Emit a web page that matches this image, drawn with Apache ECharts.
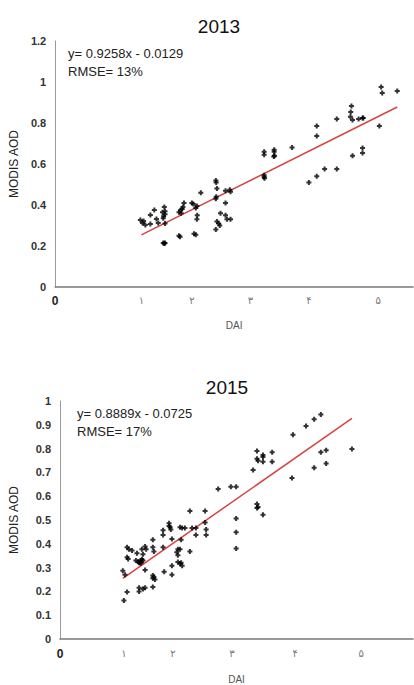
<!DOCTYPE html>
<html>
<head>
<meta charset="utf-8">
<script src="https://cdn.jsdelivr.net/npm/echarts@6/dist/echarts.min.js"></script>
<style>
html,body{margin:0;padding:0;background:#fff;}
#c{width:414px;height:685px;}
</style>
</head>
<body>
<div id="c"></div>
<script>
// ---- Data ----
const titles = ['2013', '2015'];
const equations2013 = ['y= 0.9258x - 0.0129', 'RMSE= 13%'];
const equations2015 = ['y= 0.8889x - 0.0725', 'RMSE= 17%'];
const xTickLabels = ['0', '۱', '۲', '۳', '۴', '۵'];
const xTickPos2013 = [0, 0.241, 0.382, 0.546, 0.709, 0.903];
const xTickPos2015 = [0, 0.181, 0.320, 0.487, 0.666, 0.853];

const points2013 = [
  [0.238,0.327],[0.244,0.312],[0.247,0.322],[0.252,0.302],
  [0.266,0.351],[0.277,0.376],[0.266,0.307],[0.283,0.332],[0.288,0.312],
  [0.300,0.365],[0.305,0.39],[0.307,0.37],[0.303,0.345],[0.307,0.355],[0.302,0.335],
  [0.307,0.31],
  [0.302,0.215],[0.305,0.212],[0.307,0.215],
  [0.346,0.25],[0.349,0.245],
  [0.346,0.365],[0.35,0.375],[0.355,0.38],[0.357,0.39],[0.36,0.41],[0.352,0.36],
  [0.382,0.41],[0.386,0.405],
  [0.388,0.26],[0.393,0.255],
  [0.393,0.385],[0.396,0.395],[0.397,0.35],[0.396,0.33],
  [0.407,0.46],
  [0.449,0.52],[0.45,0.51],[0.452,0.48],[0.45,0.44],[0.449,0.43],
  [0.452,0.32],[0.457,0.31],[0.449,0.28],[0.462,0.36],[0.46,0.3],
  [0.476,0.41],
  [0.476,0.47],[0.488,0.475],[0.49,0.465],
  [0.476,0.35],[0.48,0.33],[0.49,0.33],
  [0.584,0.66],[0.584,0.645],[0.584,0.545],[0.584,0.537],[0.585,0.53],
  [0.612,0.67],[0.612,0.66],[0.613,0.64],[0.611,0.637],
  [0.662,0.68],
  [0.731,0.785],[0.731,0.737],
  [0.709,0.51],[0.731,0.54],[0.753,0.576],[0.787,0.576],
  [0.787,0.82],
  [0.828,0.883],[0.826,0.854],[0.825,0.83],[0.831,0.815],
  [0.848,0.82],[0.859,0.825],[0.861,0.825],
  [0.831,0.64],[0.859,0.678],[0.859,0.654],
  [0.906,0.785],
  [0.911,0.976],[0.914,0.946],
  [0.956,0.956]
];
const fit2013 = [[0.241,0.254],[0.956,0.878]];

const points2015 = [
  [0.181,0.162],[0.190,0.198],[0.178,0.287],[0.184,0.27],
  [0.190,0.385],[0.195,0.377],[0.190,0.344],[0.193,0.336],
  [0.204,0.372],[0.218,0.36],
  [0.215,0.33],[0.221,0.325],[0.224,0.32],[0.227,0.322],[0.229,0.33],[0.232,0.335],[0.235,0.33],[0.229,0.318],
  [0.232,0.377],[0.235,0.356],[0.241,0.389],[0.244,0.377],
  [0.235,0.21],[0.224,0.215],[0.224,0.2],[0.241,0.215],[0.241,0.29],
  [0.263,0.417],[0.263,0.385],[0.266,0.368],
  [0.263,0.267],[0.266,0.26],[0.269,0.25],[0.263,0.255],[0.263,0.219],
  [0.292,0.457],[0.292,0.437],[0.292,0.385],[0.295,0.283],
  [0.309,0.486],[0.312,0.47],[0.314,0.46],[0.309,0.475],
  [0.317,0.42],[0.317,0.308],[0.317,0.27],
  [0.340,0.47],[0.346,0.466],[0.354,0.466],
  [0.343,0.417],[0.334,0.377],[0.331,0.364],[0.334,0.352],
  [0.334,0.324],[0.340,0.316],[0.346,0.308],[0.343,0.32],
  [0.340,0.377],[0.368,0.368],
  [0.368,0.538],[0.374,0.466],[0.385,0.466],[0.385,0.437],
  [0.411,0.538],[0.411,0.49],[0.414,0.46],[0.414,0.437],
  [0.448,0.63],[0.484,0.64],[0.499,0.64],
  [0.499,0.506],[0.499,0.449],[0.499,0.38],
  [0.547,0.71],
  [0.558,0.79],[0.558,0.757],[0.561,0.749],[0.575,0.773],[0.575,0.765],[0.575,0.745],
  [0.601,0.785],[0.601,0.745],
  [0.558,0.567],[0.561,0.555],[0.558,0.55],[0.575,0.522],
  [0.657,0.676],[0.660,0.858],[0.697,0.895],[0.720,0.923],[0.739,0.943],
  [0.720,0.72],[0.739,0.785],[0.754,0.793],[0.754,0.737],[0.827,0.798]
];
const fit2015 = [[0.178,0.255],[0.827,0.927]];

// ---- Chart ----
const FONT = '"Liberation Sans", Arial, sans-serif';
const chart = echarts.init(document.getElementById('c'), null, {renderer: 'svg'});
const plusSymbol = 'path://M1.5,0H3.5V1.5H5V3.5H3.5V5H1.5V3.5H0V1.5H1.5Z';

function xAxisFor(gridIndex, positions, nameGap, margin) {
  return {
    gridIndex: gridIndex, type: 'value', min: 0, max: 1,
    name: 'DAI', nameLocation: 'middle', nameGap: nameGap,
    nameTextStyle: {color: '#555', fontSize: 10, fontFamily: FONT},
    axisLine: {show: true, onZero: false, lineStyle: {color: '#7a7a7a', width: 1.5}},
    axisTick: {show: false},
    splitLine: {show: false},
    axisLabel: {
      show: true, margin: margin, showMinLabel: true,
      customValues: positions,
      formatter: function (v) {
        const i = positions.findIndex(p => Math.abs(p - v) < 1e-6);
        const t = i >= 0 ? xTickLabels[i] : '';
        return i === 0 ? '{z|' + t + '}' : '{p|' + t + '}';
      },
      rich: {
        z: {fontSize: 12, fontWeight: 'bold', color: '#222', fontFamily: FONT},
        p: {fontSize: 10, color: '#777', fontFamily: '"DejaVu Sans", sans-serif'}
      }
    }
  };
}
function yAxisFor(gridIndex, max, interval, nameGap) {
  return {
    gridIndex: gridIndex, type: 'value', min: 0, max: max, interval: interval,
    name: 'MODIS AOD', nameLocation: 'middle', nameRotate: 90, nameGap: nameGap,
    nameTextStyle: {color: '#222', fontSize: 12, fontFamily: FONT},
    axisLine: {show: true, lineStyle: {color: '#9a9a9a', width: 1}},
    axisTick: {show: false},
    splitLine: {show: false},
    axisLabel: {color: '#333', fontSize: 11, fontWeight: 'bold', fontFamily: FONT, margin: 9}
  };
}

chart.setOption({
  animation: false,
  backgroundColor: '#fff',
  title: [
    {text: titles[0], left: 214, top: 12, textAlign: 'center',
     textStyle: {fontSize: 19, fontWeight: 'normal', color: '#111', fontFamily: FONT}},
    {text: titles[1], left: 222, top: 373, textAlign: 'center',
     textStyle: {fontSize: 19, fontWeight: 'normal', color: '#111', fontFamily: FONT}}
  ],
  grid: [
    {left: 52, top: 41, width: 361, height: 246},
    {left: 60, top: 401, width: 353, height: 247}
  ],
  xAxis: [
    xAxisFor(0, xTickPos2013, 33, 8),
    xAxisFor(1, xTickPos2015, 35, 9)
  ],
  yAxis: [
    yAxisFor(0, 1.2, 0.2, 34),
    yAxisFor(1, 1, 0.1, 40)
  ],
  graphic: [
    {type: 'text', left: 68, top: 44,
     style: {text: equations2013.join('\n'), fontSize: 13, lineHeight: 18, fill: '#222', fontFamily: FONT}},
    {type: 'text', left: 77, top: 404,
     style: {text: equations2015.join('\n'), fontSize: 13, lineHeight: 18, fill: '#222', fontFamily: FONT}}
  ],
  series: [
    {type: 'scatter', xAxisIndex: 0, yAxisIndex: 0, data: points2013,
     symbol: plusSymbol, symbolSize: 5, itemStyle: {color: '#000'}, z: 3},
    {type: 'line', xAxisIndex: 0, yAxisIndex: 0, data: fit2013, showSymbol: false,
     lineStyle: {color: '#d64541', width: 1.5}, z: 2},
    {type: 'scatter', xAxisIndex: 1, yAxisIndex: 1, data: points2015,
     symbol: plusSymbol, symbolSize: 5, itemStyle: {color: '#000'}, z: 3},
    {type: 'line', xAxisIndex: 1, yAxisIndex: 1, data: fit2015, showSymbol: false,
     lineStyle: {color: '#d64541', width: 1.5}, z: 2}
  ]
});
</script>
</body>
</html>
